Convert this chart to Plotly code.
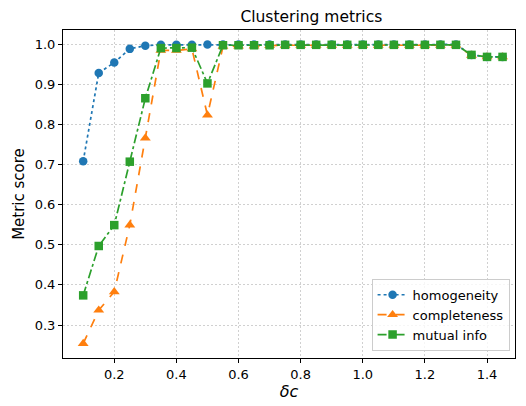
import plotly.graph_objects as go

# Threshold values and the three clustering scores
delta_c = [0.10, 0.15, 0.20, 0.25, 0.30, 0.35, 0.40, 0.45, 0.50, 0.55,
           0.60, 0.65, 0.70, 0.75, 0.80, 0.85, 0.90, 0.95, 1.00, 1.05,
           1.10, 1.15, 1.20, 1.25, 1.30, 1.35, 1.40, 1.45]
homogeneity = [0.708, 0.928, 0.954, 0.988, 0.996, 0.998, 0.998, 0.998, 0.999, 0.999,
               0.999, 0.999, 0.999, 0.999, 0.999, 0.999, 0.999, 0.999, 0.999, 0.999,
               0.999, 0.999, 0.999, 0.999, 0.999, 0.973, 0.968, 0.968]
completeness = [0.254, 0.337, 0.383, 0.549, 0.766, 0.984, 0.984, 0.988, 0.823, 0.994,
                0.995, 0.995, 0.996, 0.997, 0.997, 0.997, 0.997, 0.997, 0.997, 0.997,
                0.997, 0.997, 0.997, 0.997, 0.997, 0.972, 0.968, 0.968]
mutual_info = [0.374, 0.497, 0.549, 0.707, 0.865, 0.990, 0.990, 0.991, 0.902, 0.997,
               0.997, 0.997, 0.997, 0.998, 0.998, 0.998, 0.998, 0.998, 0.998, 0.998,
               0.998, 0.998, 0.998, 0.998, 0.998, 0.973, 0.968, 0.968]

x_ticks = [0.2, 0.4, 0.6, 0.8, 1.0, 1.2, 1.4]
y_ticks = [0.3, 0.4, 0.5, 0.6, 0.7, 0.8, 0.9, 1.0]

FONT = "DejaVu Sans"

fig = go.Figure()
fig.add_trace(go.Scatter(
    x=delta_c, y=homogeneity, name="homogeneity", mode="lines+markers",
    line=dict(color="#1f77b4", dash="dot", width=1.7),
    marker=dict(symbol="circle", size=8.5, color="#1f77b4"),
))
fig.add_trace(go.Scatter(
    x=delta_c, y=completeness, name="completeness", mode="lines+markers",
    line=dict(color="#ff7f0e", dash="dash", width=1.7),
    marker=dict(symbol="triangle-up", size=9.5, color="#ff7f0e"),
))
fig.add_trace(go.Scatter(
    x=delta_c, y=mutual_info, name="mutual info", mode="lines+markers",
    line=dict(color="#2ca02c", dash="dashdot", width=1.7),
    marker=dict(symbol="square", size=8.5, color="#2ca02c"),
))

axis_common = dict(
    showline=True, linecolor="black", linewidth=1, mirror=True,
    ticks="outside", ticklen=4, tickcolor="black", tickwidth=1,
    showgrid=True, gridcolor="#d0d0d0", griddash="2px,2px", gridwidth=0.8,
    zeroline=False, tickfont=dict(family=FONT, size=13, color="black"),
)

fig.update_layout(
    width=526, height=406,
    margin=dict(l=63, r=11, t=30, b=48),
    paper_bgcolor="white", plot_bgcolor="white",
    font=dict(family=FONT, color="black"),
    title=dict(text="Clustering metrics", x=(63 + 515) / 2 / 526, xanchor="center",
               y=1 - 17 / 406, yanchor="middle",
               xref="paper", font=dict(family=FONT, size=15.5)),
    xaxis=dict(range=[0.035, 1.49], tickvals=x_ticks,
               ticktext=[f"{v:.1f}" for v in x_ticks],
               title=dict(text="<i>δc</i>", font=dict(family=FONT, size=16), standoff=3),
               **axis_common),
    yaxis=dict(range=[0.218, 1.035], tickvals=y_ticks,
               ticktext=[f"{v:.1f}" for v in y_ticks],
               title=dict(text="Metric score", font=dict(family=FONT, size=15), standoff=6),
               **axis_common),
    legend=dict(x=0.988, y=0.022, xanchor="right", yanchor="bottom",
                bgcolor="rgba(255,255,255,0.8)", bordercolor="#cccccc", borderwidth=1,
                font=dict(family=FONT, size=13), itemwidth=30, tracegroupgap=0),
    showlegend=True,
)

fig.write_html("out.html")
